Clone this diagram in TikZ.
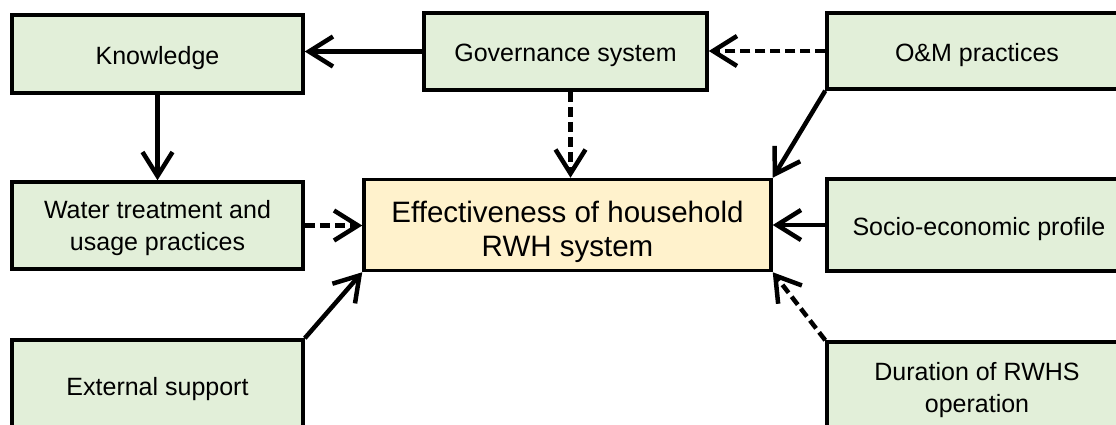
\documentclass[tikz,border=0pt]{standalone}
\usepackage{fontspec}
\setmainfont{Liberation Sans}
\usetikzlibrary{arrows.meta}
\definecolor{boxgreen}{HTML}{E2EFD9}
\definecolor{boxyellow}{HTML}{FFF2CC}
\newcommand\topstrut[1]{\rule{0pt}{#1}}
\tikzset{
  gbox/.style={draw=black, line width=3.5pt, fill=boxgreen, rectangle, inner sep=0pt, align=center,
    font=\fontsize{25}{32}\selectfont},
  ybox/.style={draw=black, line width=3.5pt, fill=boxyellow, rectangle, inner sep=0pt, align=center,
    font=\fontsize{29.5}{34}\selectfont},
  conn/.style={line width=4.5pt, -{Straight Barb[length=24pt,width=30pt]}},
  dconn/.style={conn, dash pattern=on 10pt off 5pt},
}
\begin{document}
\begin{tikzpicture}[x=1pt,y=-1pt]
\useasboundingbox (0,0) rectangle (1116,424);
\fill[white] (0,0) rectangle (1116,424);
\clip (0,0) rectangle (1116,424);
% boxes
\node[gbox, minimum width=291pt, minimum height=78pt] (know) at (157.5,54) {\topstrut{25.5pt}Knowledge};
\node[gbox, minimum width=283pt, minimum height=77pt] (gov) at (565.5,51.5) {\topstrut{25.5pt}Governance system};
\node[gbox, minimum width=300pt, minimum height=76pt] (om) at (977,51) {\topstrut{25.5pt}O\&M practices};
\node[gbox, minimum width=291pt, minimum height=87pt] (water) at (157.5,225.5) {\topstrut{23.5pt}Water treatment and\\usage practices};
\node[ybox, minimum width=407pt, minimum height=91pt] (eff) at (567.5,225) {\topstrut{35.5pt}Effectiveness of household\\RWH system};
\node[gbox, minimum width=304pt, minimum height=92pt] (socio) at (979,225) {\topstrut{25.5pt}Socio-economic profile};
\node[gbox, minimum width=291pt, minimum height=90pt] (ext) at (157.5,385) {\topstrut{25.5pt}External support};
\node[gbox, minimum width=300pt, minimum height=90pt] (dur) at (977,387) {\topstrut{24.5pt}Duration of RWHS\\operation};
% connectors
\draw[conn] (gov.west) -- (gov.west -| know.east);
\draw[conn] (know.south) -- (water.north);
\draw[dconn] (om.west) -- (om.west -| gov.east);
\draw[dconn] ([xshift=5pt]gov.south) -- ([xshift=5pt]gov.south |- eff.north);
\draw[conn] (om.south west) -- (eff.north east);
\draw[conn] (socio.west) -- (socio.west -| eff.east);
\draw[dconn] (water.east) -- (water.east -| eff.west);
\draw[conn] (ext.north east) -- (eff.south west);
\draw[dconn] (dur.north west) -- (eff.south east);
\end{tikzpicture}
\end{document}
